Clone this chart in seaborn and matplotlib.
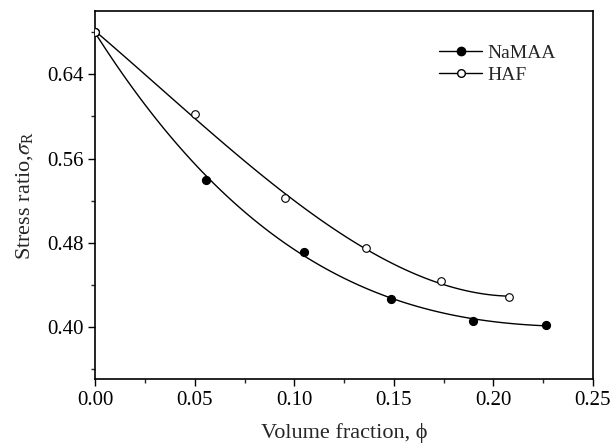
import matplotlib
matplotlib.use("Agg")
import matplotlib.pyplot as plt
import seaborn as sns
import pandas as pd
from matplotlib.lines import Line2D
from matplotlib.ticker import MultipleLocator

# Data
namaa_x = [0.0, 0.0558, 0.105, 0.1488, 0.1898, 0.2263]
namaa_y = [0.680, 0.540, 0.4716, 0.4265, 0.4057, 0.402]
haf_x = [0.0, 0.050, 0.0952, 0.136, 0.1735, 0.208]
haf_y = [0.680, 0.602, 0.522, 0.4747, 0.4434, 0.428]
series_names = ["NaMAA", "HAF"]

sns.set_style("ticks")
plt.rcParams['font.family'] = ['Liberation Serif', 'DejaVu Serif']
plt.rcParams['mathtext.fontset'] = 'stix'

fig, ax = plt.subplots(figsize=(6.13, 4.48), dpi=100)
fig.subplots_adjust(left=0.1555, right=0.967, top=0.975, bottom=0.153)

df_n = pd.DataFrame({"x": namaa_x, "y": namaa_y})
df_h = pd.DataFrame({"x": haf_x, "y": haf_y})

sns.regplot(data=df_n, x="x", y="y", order=3, ci=None, ax=ax,
            scatter_kws=dict(s=34, color="black", edgecolor="black", linewidths=0.8, alpha=1, zorder=3),
            line_kws=dict(color="black", lw=1.0))
sns.regplot(data=df_h, x="x", y="y", order=3, ci=None, ax=ax,
            scatter_kws=dict(s=30, facecolor="white", edgecolor="black", linewidths=0.8, alpha=1, zorder=3),
            line_kws=dict(color="black", lw=1.0))

ax.set_xlim(0, 0.25)
ax.set_ylim(0.35, 0.70)
ax.set_xticks([0.0, 0.05, 0.10, 0.15, 0.20, 0.25])
ax.set_xticklabels(["0.00", "0.05", "0.10", "0.15", "0.20", "0.25"])
ax.set_yticks([0.40, 0.48, 0.56, 0.64])
ax.set_yticklabels(["0.40", "0.48", "0.56", "0.64"])
ax.xaxis.set_minor_locator(MultipleLocator(0.025))
ax.yaxis.set_minor_locator(MultipleLocator(0.04))
ax.tick_params(which="major", direction="out", length=5, width=1, labelsize=15, colors="black")
ax.tick_params(which="minor", direction="out", length=3, width=1)
for s in ax.spines.values():
    s.set_linewidth(1.2)
    s.set_color("black")

ax.set_xlabel("Volume fraction, \u03d5", fontsize=16, labelpad=9)
ax.set_ylabel(r"Stress ratio,$\sigma_\mathregular{R}$", fontsize=16, labelpad=9)

handles = [
    Line2D([], [], color="black", lw=1, marker="o", markersize=6, markerfacecolor="black", markeredgecolor="black"),
    Line2D([], [], color="black", lw=1, marker="o", markersize=5.5, markerfacecolor="white", markeredgecolor="black"),
]
ax.legend(handles, series_names, loc="upper right", bbox_to_anchor=(0.962, 0.958), frameon=False,
          fontsize=14, handlelength=2.2, handletextpad=0.3, labelspacing=0.25)

fig.savefig("out.png", dpi=100)
